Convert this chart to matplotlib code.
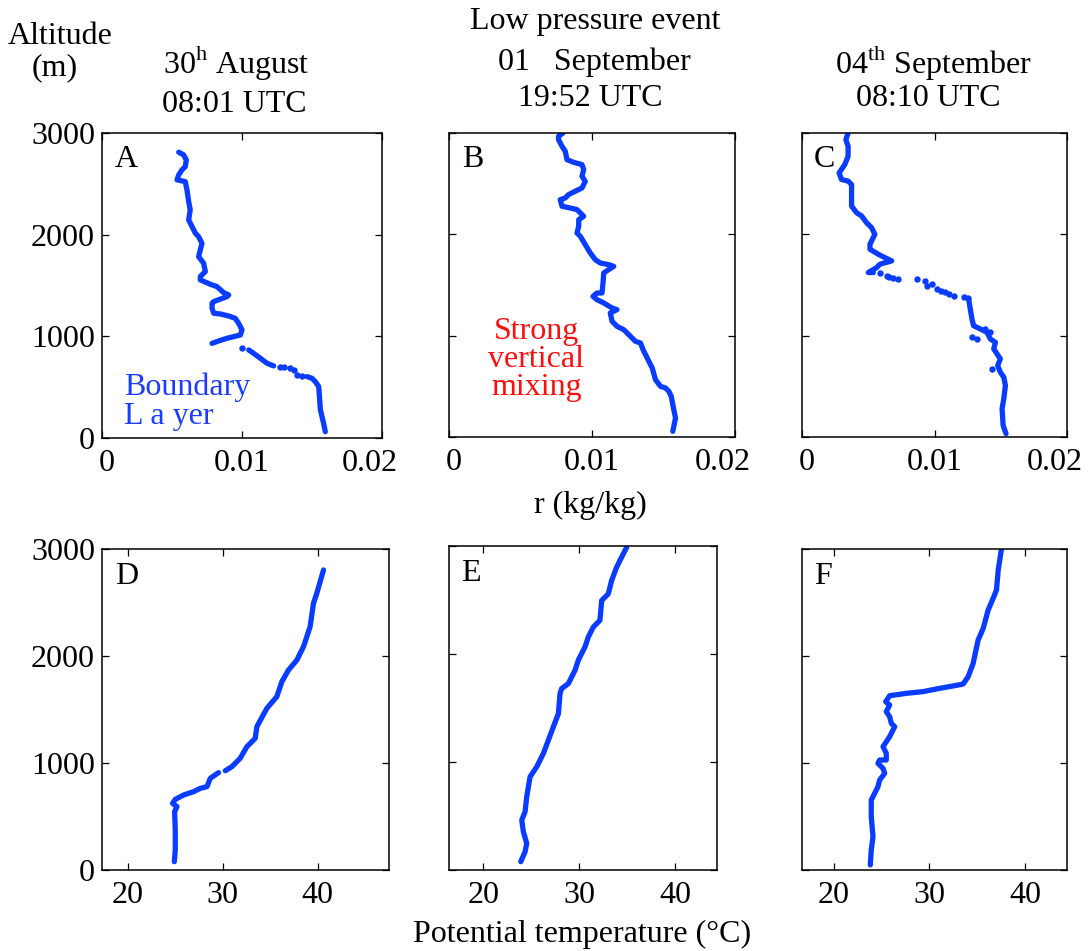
import numpy as np
import matplotlib
matplotlib.use("Agg")
from matplotlib import pyplot as plt
from matplotlib import transforms

plt.rcParams['font.family'] = ['Liberation Serif', 'DejaVu Serif']
plt.rcParams['mathtext.fontset'] = 'custom'
plt.rcParams['mathtext.rm'] = 'Liberation Serif'

nan = np.nan

# ---- mixing ratio r (kg/kg) vs altitude (m) ----
# panel A, 30 August
a_r = [0.01595, 0.01583, 0.0156, 0.01555, 0.01548, 0.01524, 0.0150, 0.01464, nan,
       0.01226, 0.01179, 0.01131, 0.01083, 0.01048, nan,
       0.00786, 0.00845, 0.00893, 0.0094, 0.00988, 0.0100, 0.00976, 0.00952, 0.00905,
       0.00845, 0.00798, 0.00786, 0.00786, 0.00798, 0.00893, 0.00905, 0.00869, 0.00821,
       0.00774, 0.00702, 0.00702, 0.00738, 0.00726, 0.0069, 0.00702, 0.00714, 0.0069,
       0.00667, 0.00643, 0.00619, 0.0063, 0.00619, 0.00607, 0.00595, 0.00536, 0.00548,
       0.00571, 0.00595, 0.00602, 0.00583, 0.00548]
a_z = [62, 144, 276, 374, 505, 554, 587, 604, nan,
       709, 735, 784, 833, 866, nan,
       931, 960, 981, 997, 1013, 1063, 1128, 1177, 1200,
       1220, 1227, 1276, 1325, 1342, 1391, 1407, 1430, 1489,
       1512, 1555, 1588, 1637, 1719, 1784, 1850, 1915, 1981,
       2014, 2080, 2145, 2244, 2326, 2440, 2522, 2539, 2588,
       2637, 2670, 2735, 2785, 2811]
a_dot_r = [0.0143, 0.01393, 0.0137, 0.01345, 0.0130, 0.01274, 0.0100]
a_dot_z = [606, 620, 669, 686, 700, 702, 882]

# panel B, 01 September
b_r = [0.01565, 0.01584, 0.01572, 0.01554, 0.01537, 0.01514, 0.01479, 0.01444, 0.01421,
       0.01386, 0.01357, 0.01339, 0.01304, 0.01257, 0.01222, 0.01175, 0.0114, 0.01128,
       0.01175, 0.0114, 0.01082, 0.01035, 0.01007, 0.01035, 0.0107, 0.01077, 0.01082,
       0.01117, 0.01152, 0.01117, 0.01058, 0.01023, 0.00988, 0.00953, 0.00918, 0.00895,
       0.00907, 0.00907, 0.00942, 0.00895, 0.00848, 0.0079, 0.00778, 0.00813, 0.00836,
       0.00883, 0.0093, 0.00953, 0.0093, 0.00942, 0.0093, 0.00871, 0.00825, 0.00813,
       0.0079, 0.00766, 0.00766, 0.00797]
b_z = [56, 188, 270, 401, 451, 484, 500, 566, 681,
       780, 862, 928, 944, 1010, 1059, 1092, 1142, 1224,
       1257, 1273, 1323, 1355, 1388, 1421, 1421, 1520, 1619,
       1652, 1684, 1701, 1717, 1750, 1816, 1898, 1981, 2013,
       2079, 2145, 2178, 2244, 2260, 2277, 2342, 2359, 2392,
       2425, 2458, 2523, 2573, 2639, 2688, 2711, 2737, 2820,
       2869, 2935, 2968, 3000]
b_dot_r = []
b_dot_z = []

# panel C, 04 September
c_r = [0.0154, 0.01518, 0.0151, 0.01523, 0.01535, 0.01523, 0.01497, 0.01477, 0.01497,
       0.01472, 0.01447, 0.0146, 0.01422, 0.01396, 0.01346, 0.01295, 0.01283, 0.0127,
       0.01258, nan,
       0.00538, 0.005, 0.00563, 0.00588, 0.00677, 0.00626, 0.00576, 0.00513, 0.00513,
       0.0055, 0.00525, 0.00487, 0.0045, 0.00412, 0.00374, 0.00374, 0.00348, 0.00298,
       0.0028, 0.00298, 0.00323, 0.00348, 0.00348, 0.00331, 0.00348]
c_z = [33, 115, 279, 377, 508, 590, 639, 705, 771,
       820, 869, 934, 967, 1033, 1066, 1098, 1164, 1262,
       1361, nan,
       1623, 1623, 1672, 1705, 1738, 1770, 1803, 1853, 1902,
       2000, 2066, 2115, 2181, 2213, 2279, 2492, 2525, 2541,
       2607, 2640, 2689, 2771, 2869, 2935, 3000]
c_dot_r = [0.0125, 0.0122, 0.01144, 0.0111, 0.01081, 0.0105, 0.01018, 0.0098, 0.00942,
           0.00929, 0.00866, 0.00727, 0.00689, 0.0066, 0.00639, 0.00588,
           0.01283, 0.0132, 0.01384, 0.0142, 0.01434]
c_dot_z = [1375, 1385, 1394, 1410, 1426, 1440, 1459, 1508, 1492,
           1541, 1557, 1557, 1574, 1582, 1590, 1616,
           984, 967, 1066, 1033, 672]

# ---- potential temperature (degC) vs altitude (m) ----
d_t = [24.88, 24.98, 24.98, 24.91, 25.16, 24.7, 24.98, 25.86, 26.91, 27.61, 28.32,
       28.67, 29.54, nan,
       30.25, 30.95, 31.82, 32.53, 33.4, 33.58, 34.63, 35.68, 36.21, 36.91, 37.79,
       38.49, 39.19, 39.54, 39.89, 40.6]
d_z = [78, 187, 374, 545, 592, 623, 660, 701, 732, 763, 779,
       857, 910, nan,
       928, 966, 1044, 1153, 1230, 1340, 1511, 1620, 1760, 1869, 1962,
       2087, 2274, 2492, 2585, 2804]

e_t = [23.9, 24.35, 24.52, 24.17, 24.0, 24.35, 24.52, 24.87, 25.57, 26.26, 26.78,
       27.3, 27.83, 28.0, 28.17, 28.87, 29.57, 29.91, 30.61, 30.96, 31.48, 32.17,
       32.35, 33.04, 33.39, 33.91, 34.43, 34.96]
e_z = [77, 170, 247, 355, 462, 540, 678, 863, 956, 1079, 1202,
       1325, 1448, 1634, 1680, 1726, 1850, 1943, 2066, 2159, 2250, 2312,
       2495, 2557, 2680, 2803, 2896, 2988]

f_t = [23.84, 23.94, 24.12, 23.94, 23.94, 24.29, 24.64, 24.82, 25.34, 25.17, 24.64,
       24.82, 25.51, 25.51, 25.17, 25.86, 26.39, 26.04, 25.86, 25.51, 25.86, 25.45,
       25.86, 27.61, 29.35, 31.1, 32.5, 33.54, 34.07, 34.59, 35.11, 35.64, 36.16,
       36.68, 37.03, 37.21, 37.56]
f_z = [47, 187, 311, 498, 654, 716, 779, 841, 903, 950, 997,
       1028, 1028, 1090, 1153, 1246, 1339, 1370, 1433, 1480, 1542, 1573,
       1629, 1651, 1667, 1698, 1720, 1738, 1807, 1931, 2149, 2258, 2430,
       2539, 2617, 2804, 3006]

panel_letters = ['A', 'B', 'C', 'D', 'E', 'F']
r_ticks = [0, 0.01, 0.02]
r_ticklabels = ['0', '0.01', '0.02']
t_ticks = [20, 30, 40]
z_ticks = [0, 1000, 2000, 3000]

W, H = 1091, 951
fig = plt.figure(figsize=(W / 100, H / 100), dpi=100)

# axes boxes in pixels: left, top, right, bottom
boxes = [(102, 133, 382, 438), (449, 133, 735, 437), (802, 133, 1067, 437),
         (102, 549, 389, 870), (449, 546, 717, 870), (802, 549, 1067, 870)]
t_limits = [(17.26, 47.5), (16.4, 44.4), (16.7, 44.4)]

top_data = [(a_r, a_z, a_dot_r, a_dot_z), (b_r, b_z, b_dot_r, b_dot_z),
            (c_r, c_z, c_dot_r, c_dot_z)]
bot_data = [(d_t, d_z), (e_t, e_z), (f_t, f_z)]

blue = '#0a3cff'
fs = 23
axes = []
for i, (l, t, r, b) in enumerate(boxes):
    ax = fig.add_axes([l / W, 1 - b / H, (r - l) / W, (b - t) / H])
    axes.append(ax)
    if i < 3:
        x, z, xd, zd = top_data[i]
        ax.plot(x, z, '-', color=blue, lw=3.8, solid_capstyle='round')
        if xd:
            ax.plot(xd, zd, 'o', color=blue, ms=4.6, mew=0)
        ax.set_xlim(0, 0.02)
        ax.set_xticks(r_ticks)
        ax.set_xticklabels(r_ticklabels)
    else:
        x, z = bot_data[i - 3]
        ax.plot(x, z, '-', color=blue, lw=3.8, solid_capstyle='round')
        ax.set_xlim(*t_limits[i - 3])
        ax.set_xticks(t_ticks)
    ax.set_ylim(0, 3000)
    ax.set_yticks(z_ticks)
    if i % 3 != 0:
        ax.set_yticklabels([])
    ax.tick_params(direction='in', top=True, right=True, length=5,
                   width=0.9, labelsize=fs)
    ax.tick_params(axis='x', pad=8)
    ax.tick_params(axis='y', pad=5)
    for s in ax.spines.values():
        s.set_linewidth(1.1)
    ax.text(0.045, 0.96, panel_letters[i], transform=ax.transAxes,
            fontsize=fs, va='top', ha='left')

# nudge the end labels of the r axes like in the original figure
fig.canvas.draw()
for ax in axes[:3]:
    labs = ax.get_xticklabels()
    labs[0].set_transform(labs[0].get_transform() +
                          transforms.ScaledTranslation(5 / 100, 0, fig.dpi_scale_trans))
    labs[-1].set_transform(labs[-1].get_transform() +
                           transforms.ScaledTranslation(-12 / 100, 0, fig.dpi_scale_trans))

axes[0].text(0.08, 0.165, 'Boundary', transform=axes[0].transAxes,
             fontsize=fs, color='#1a3cff', ha='left', va='center')
axes[0].text(0.08, 0.072, 'L a yer', transform=axes[0].transAxes,
             fontsize=fs, color='#1a3cff', ha='left', va='center')
axes[1].text(0.305, 0.255, 'Strong\nvertical\nmixing', transform=axes[1].transAxes,
             fontsize=fs, color='#ff0d0d', ha='center', va='center',
             linespacing=0.95)

# headers
fig.text(60 / W, 1 - 36 / H, 'Altitude', fontsize=fs, ha='center', va='center')
fig.text(55 / W, 1 - 68 / H, '(m)', fontsize=fs, ha='center', va='center')
fig.text(236 / W, 1 - 62 / H, r'30$^{\mathrm{h}}$ August', fontsize=fs,
         ha='center', va='center')
fig.text(234 / W, 1 - 105 / H, '08:01 UTC', fontsize=fs, ha='center', va='center')
fig.text(595 / W, 1 - 22 / H, 'Low pressure event', fontsize=fs,
         ha='center', va='center')
fig.text(594 / W, 1 - 62 / H, '01   September', fontsize=fs, ha='center', va='center')
fig.text(590 / W, 1 - 99 / H, '19:52 UTC', fontsize=fs, ha='center', va='center')
fig.text(934 / W, 1 - 62 / H, r'04$^{\mathrm{th}}$ September', fontsize=fs,
         ha='center', va='center')
fig.text(928 / W, 1 - 99 / H, '08:10 UTC', fontsize=fs, ha='center', va='center')

fig.text(590 / W, 1 - 505 / H, 'r (kg/kg)', fontsize=fs, ha='center', va='center')
fig.text(582 / W, 1 - 934 / H, 'Potential temperature (°C)', fontsize=fs,
         ha='center', va='center')

fig.savefig('out.png', dpi=100)
